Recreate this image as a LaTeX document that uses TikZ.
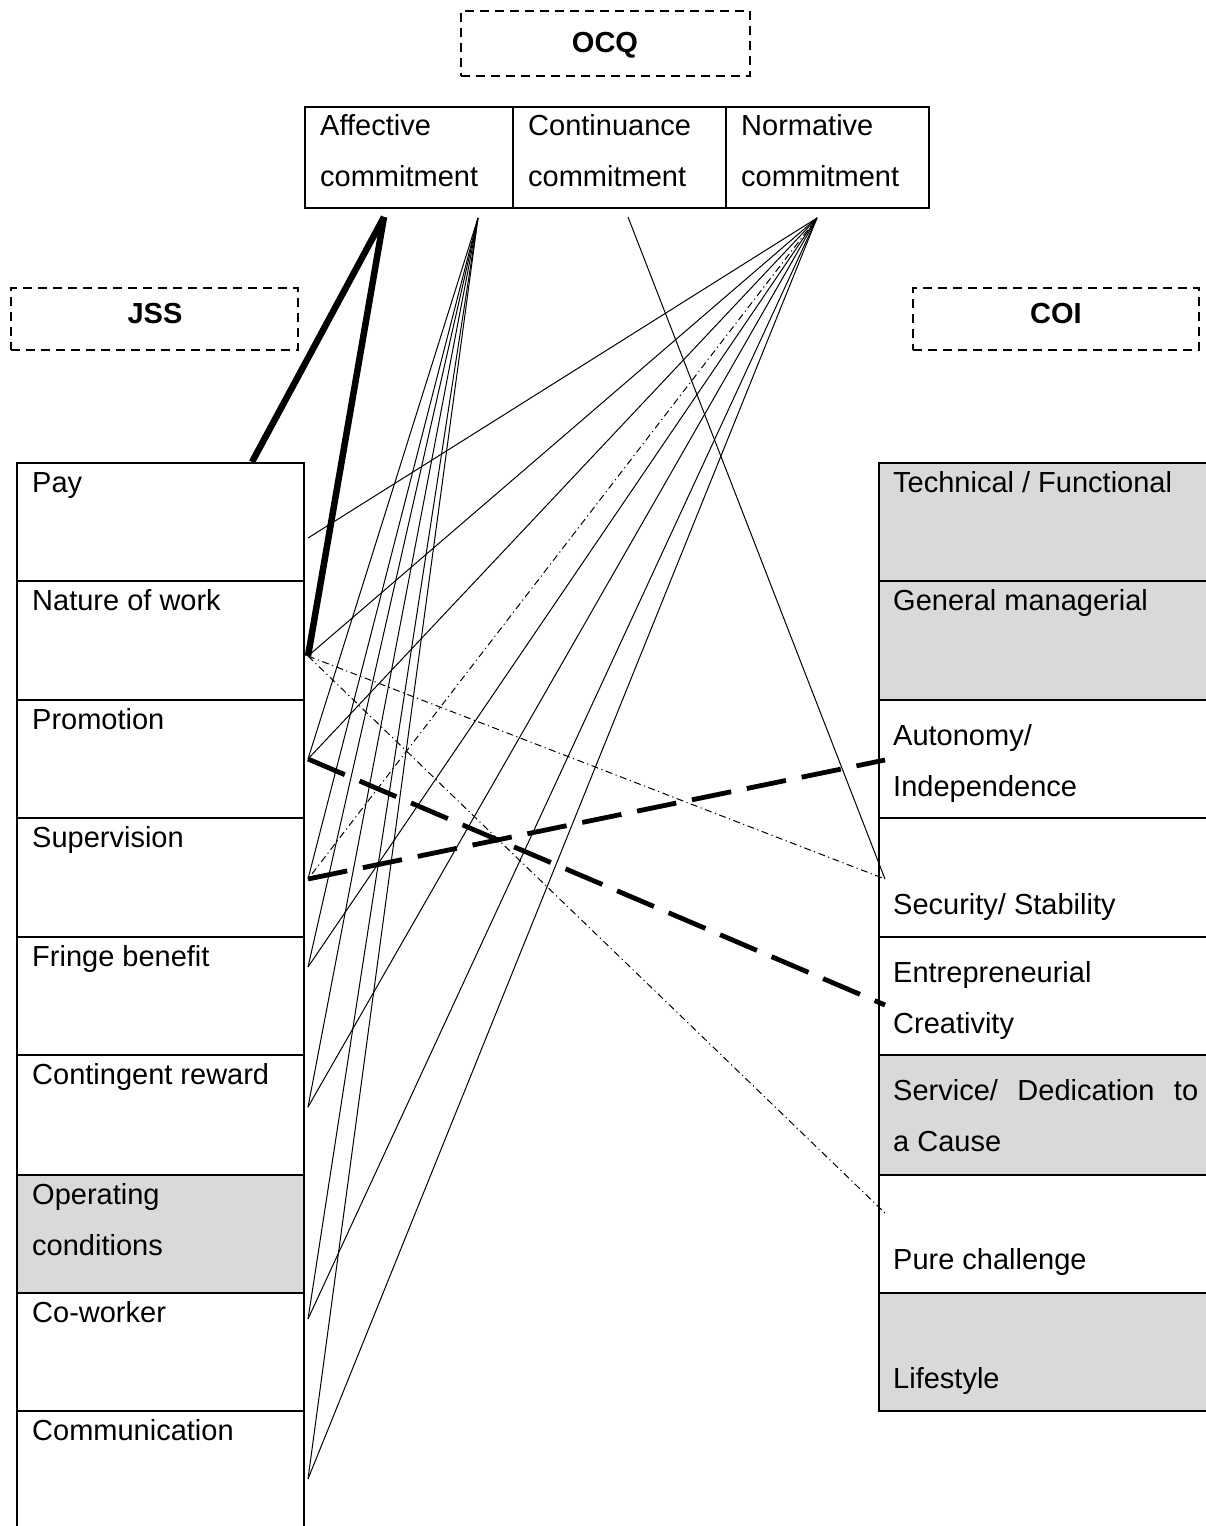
\documentclass[tikz,border=0pt]{standalone}
\usepackage{fontspec}
\setmainfont{Liberation Sans}
\definecolor{cellgrey}{HTML}{D9D9D9}
\begin{document}
\begin{tikzpicture}[x=1pt,y=-1pt,
  cell/.style={draw, line width=1.6pt, anchor=north west, inner sep=0pt, outer sep=0pt},
  shaded/.style={fill=cellgrey},
  groupbox/.style={draw, dash pattern=on 9pt off 6pt, line width=1.6pt, anchor=north west, inner sep=0pt},
  txt/.style={anchor=base west, inner sep=0pt, font=\fontsize{29}{35}\selectfont},
  heading/.style={anchor=base, inner sep=0pt, font=\fontsize{29}{35}\selectfont\bfseries},
  link/.style={line width=1pt},
  dashdot/.style={line width=1pt, dash pattern=on 7pt off 3.5pt on 1.2pt off 3.5pt},
  heavy/.style={line width=6.5pt},
  heavydash/.style={line width=4.8pt, dash pattern=on 40pt off 16pt},
]
\useasboundingbox (0,0) rectangle (1206,1526);
\clip (0,0) rectangle (1206,1526);

% ---- group headings (dashed frames) ----
\node[groupbox, minimum width=289pt, minimum height=65pt] (ocqBox) at (460,10) {};
\node[heading] (ocq) at (605,52) {OCQ};
\node[groupbox, minimum width=287pt, minimum height=62pt] (jssBox) at (10,287) {};
\node[heading] (jss) at (155,323) {JSS};
\node[groupbox, minimum width=286pt, minimum height=62pt] (coiBox) at (912,287) {};
\node[heading] (coi) at (1056,323) {COI};

% ---- commitment table ----
\node[cell, minimum width=208pt, minimum height=101pt] (affCell) at (305,107) {};
\node[cell, minimum width=213pt, minimum height=101pt] (conCell) at (513,107) {};
\node[cell, minimum width=203pt, minimum height=101pt] (norCell) at (726,107) {};
\node[txt] (affA) at (320,135) {Affective};
\node[txt] (affB) at (320,186) {commitment};
\node[txt] (conA) at (528,135) {Continuance};
\node[txt] (conB) at (528,186) {commitment};
\node[txt] (norA) at (741,135) {Normative};
\node[txt] (norB) at (741,186) {commitment};

% ---- JSS facets ----
\node[cell, minimum width=287pt, minimum height=118pt] (pay) at (17,463) {};
\node[cell, minimum width=287pt, minimum height=119pt] (nature) at (17,581) {};
\node[cell, minimum width=287pt, minimum height=118pt] (promo) at (17,700) {};
\node[cell, minimum width=287pt, minimum height=119pt] (superv) at (17,818) {};
\node[cell, minimum width=287pt, minimum height=118pt] (fringe) at (17,937) {};
\node[cell, minimum width=287pt, minimum height=120pt] (conting) at (17,1055) {};
\node[cell, shaded, minimum width=287pt, minimum height=118pt] (operat) at (17,1175) {};
\node[cell, minimum width=287pt, minimum height=118pt] (cowork) at (17,1293) {};
\node[cell, minimum width=287pt, minimum height=130pt] (commun) at (17,1411) {};
\node[txt] (payT) at (32,492) {Pay};
\node[txt] (natureT) at (32,610) {Nature of work};
\node[txt] (promoT) at (32,729) {Promotion};
\node[txt] (supervT) at (32,847) {Supervision};
\node[txt] (fringeT) at (32,966) {Fringe benefit};
\node[txt] (contingT) at (32,1084) {Contingent reward};
\node[txt] (operatA) at (32,1204) {Operating};
\node[txt] (operatB) at (32,1255) {conditions};
\node[txt] (coworkT) at (32,1322) {Co-worker};
\node[txt] (communT) at (32,1440) {Communication};

% ---- COI anchors ----
\node[cell, shaded, minimum width=336pt, minimum height=118pt] (tech) at (879,463) {};
\node[cell, shaded, minimum width=336pt, minimum height=119pt] (genman) at (879,581) {};
\node[cell, minimum width=336pt, minimum height=118pt] (auton) at (879,700) {};
\node[cell, minimum width=336pt, minimum height=119pt] (secur) at (879,818) {};
\node[cell, minimum width=336pt, minimum height=118pt] (entre) at (879,937) {};
\node[cell, shaded, minimum width=336pt, minimum height=120pt] (service) at (879,1055) {};
\node[cell, minimum width=336pt, minimum height=118pt] (pure) at (879,1175) {};
\node[cell, shaded, minimum width=336pt, minimum height=118pt] (life) at (879,1293) {};
\node[txt] (techT) at (893,492) {Technical / Functional};
\node[txt] (genmanT) at (893,610) {General managerial};
\node[txt] (autonA) at (893,745) {Autonomy/};
\node[txt] (autonB) at (893,796) {Independence};
\node[txt] (securT) at (893,914) {Security/ Stability};
\node[txt] (entreA) at (893,982) {Entrepreneurial};
\node[txt] (entreB) at (893,1033) {Creativity};
\node[txt] (serviceA) at (893,1100) {\makebox[305pt][s]{Service/ Dedication to}};
\node[txt] (serviceB) at (893,1151) {a Cause};
\node[txt] (pureT) at (893,1269) {Pure challenge};
\node[txt] (lifeT) at (893,1388) {Lifestyle};

% ---- connector end points ----
\coordinate (aThick) at (384,217);
\coordinate (aFan) at (478,218);
\coordinate (cTop) at (628,217);
\coordinate (nTop) at (817,218);
\coordinate (ePayTop) at (252,462);
\coordinate (ePay) at (308,538);
\coordinate (eNature) at (308,656);
\coordinate (ePromo) at (308,759);
\coordinate (eSuperv) at (308,879);
\coordinate (eFringe) at (308,967);
\coordinate (eConting) at (308,1107);
\coordinate (eCowork) at (308,1319);
\coordinate (eCommun) at (308,1479);
\coordinate (rAuton) at (885,760);
\coordinate (rSecur) at (885,879);
\coordinate (rEntre) at (885,1005);
\coordinate (rPure) at (886,1214);

% ---- affective commitment ----
\draw[heavy] (aThick) -- (ePayTop);
\draw[heavy] (aThick) -- (eNature);
\foreach \e in {ePromo,eSuperv,eFringe,eConting,eCowork,eCommun}
  \draw[link] (aFan) -- (\e);

% ---- normative commitment ----
\foreach \e in {ePay,eNature,ePromo,eFringe,eConting,eCowork,eCommun}
  \draw[link] (nTop) -- (\e);
\draw[dashdot] (nTop) -- (eSuperv);

% ---- continuance commitment ----
\draw[link] (cTop) -- (rSecur);

% ---- facets to career anchors ----
\draw[dashdot] (eNature) -- (rSecur);
\draw[dashdot] (eNature) -- (rPure);
\draw[heavydash] (ePromo) -- (rEntre);
\draw[heavydash] (eSuperv) -- (rAuton);
\end{tikzpicture}
\end{document}
